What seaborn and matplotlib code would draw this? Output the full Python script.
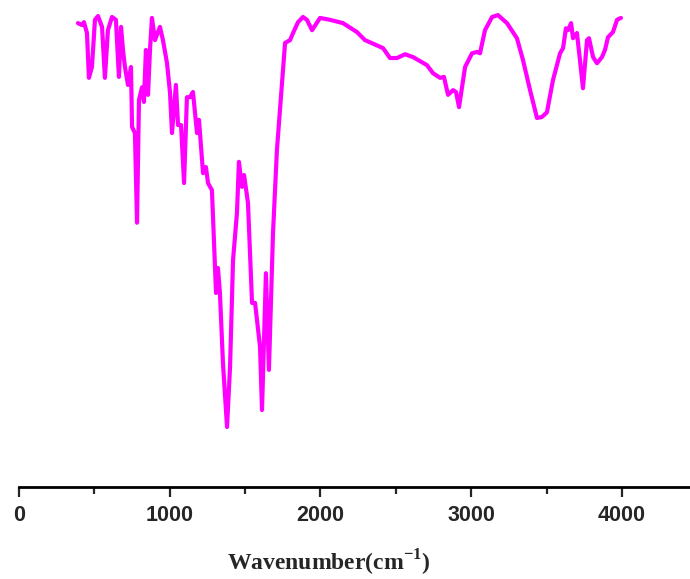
import matplotlib
matplotlib.use('Agg')
import matplotlib.pyplot as plt
import pandas as pd
import seaborn as sns
from matplotlib.ticker import MultipleLocator

# FTIR spectrum (wavenumber in cm-1, transmittance in arbitrary %)
wavenumber = [391, 418, 431, 451, 464, 484, 504, 524, 551, 570, 590, 617, 643, 663, 677,
              690, 703, 723, 743, 750, 769, 783, 796, 816, 829, 842, 856, 869, 882, 902,
              935, 955, 982, 1002, 1015, 1041, 1055, 1075, 1095, 1114, 1134, 1154, 1181,
              1194, 1221, 1240, 1254, 1280, 1287, 1300, 1307, 1320, 1333, 1353, 1380, 1400,
              1420, 1446, 1459, 1479, 1493, 1519, 1546, 1566, 1599, 1612, 1638, 1658, 1685,
              1711, 1731, 1765, 1798, 1818, 1851, 1884, 1910, 1944, 1997, 2063, 2149, 2242,
              2295, 2415, 2461, 2507, 2561, 2614, 2706, 2746, 2793, 2819, 2846, 2879, 2899,
              2919, 2959, 3005, 3038, 3058, 3091, 3138, 3177, 3237, 3303, 3343, 3390, 3436,
              3469, 3502, 3542, 3589, 3609, 3628, 3642, 3662, 3675, 3701, 3721, 3741, 3768,
              3781, 3808, 3834, 3867, 3887, 3907, 3940, 3967, 3993]
transmittance = [98.3, 97.9, 98.5, 96.2, 86.7, 89.0, 99.0, 99.8, 97.5, 86.7, 96.8, 99.6, 99.0,
                 86.9, 97.5, 92.6, 89.0, 85.2, 89.0, 76.3, 75.0, 56.0, 82.0, 84.7, 81.6, 92.6,
                 83.1, 92.6, 99.4, 94.7, 97.5, 94.7, 89.8, 83.5, 75.0, 85.2, 76.7, 76.7, 64.4,
                 82.6, 82.6, 83.7, 75.0, 77.8, 66.5, 67.8, 64.4, 62.9, 57.2, 46.6, 41.1, 46.4,
                 41.1, 26.3, 12.7, 25.4, 48.1, 58.1, 68.9, 63.6, 66.1, 60.2, 39.0, 39.0, 29.7,
                 16.3, 45.3, 24.8, 53.8, 71.4, 79.9, 94.1, 94.7, 96.2, 98.5, 99.6, 99.0, 96.8,
                 99.4, 99.0, 98.3, 96.4, 94.7, 93.0, 90.9, 90.9, 91.7, 91.1, 89.4, 87.7, 86.7,
                 86.9, 83.1, 84.1, 83.7, 80.5, 89.0, 91.9, 92.2, 91.9, 96.8, 99.6, 100.0, 98.3,
                 95.1, 90.5, 84.1, 78.2, 78.4, 79.4, 86.2, 91.9, 93.0, 97.2, 96.8, 98.3, 95.1,
                 96.2, 90.5, 84.5, 94.7, 95.1, 91.1, 89.8, 91.1, 92.6, 95.3, 96.4, 99.0, 99.4]

df = pd.DataFrame({'wn': wavenumber, 't': transmittance})

sns.set_style('white')
plt.rcParams['mathtext.fontset'] = 'custom'
plt.rcParams['mathtext.rm'] = 'Liberation Serif:bold'
plt.rcParams['mathtext.bf'] = 'Liberation Serif:bold'

fig = plt.figure(figsize=(6.9, 5.79), dpi=100)
ax = fig.add_axes([0.0275, 0.159, 0.9725, 0.841])

sns.lineplot(data=df, x='wn', y='t', sort=False, color='#ff00ff', linewidth=3.0, ax=ax,
             solid_joinstyle='round', solid_capstyle='round')

ax.set_xlim(0, 4451)
ax.set_ylim(0, 103.2)
ax.xaxis.set_major_locator(MultipleLocator(1000))
ax.xaxis.set_minor_locator(MultipleLocator(500))
ax.set_yticks([])
for s in ['left', 'right', 'top']:
    ax.spines[s].set_visible(False)
ax.spines['bottom'].set_linewidth(2)
ax.spines['bottom'].set_color('black')
ax.tick_params(axis='x', which='major', direction='out', length=7, width=1.6, bottom=True, pad=6)
ax.tick_params(axis='x', which='minor', direction='out', length=5, width=1.6, bottom=True)
for lab in ax.get_xticklabels():
    lab.set_fontfamily('Liberation Sans')
    lab.set_fontweight('bold')
    lab.set_fontsize(15.5)
ax.set_xlabel('Wavenumber(cm$^{\\mathrm{-1}}$)', fontfamily='Liberation Serif',
              fontweight='bold', fontsize=17)
ax.xaxis.set_label_coords(0.461, -0.125)
ax.set_ylabel('')

fig.savefig('out.png', dpi=100)
